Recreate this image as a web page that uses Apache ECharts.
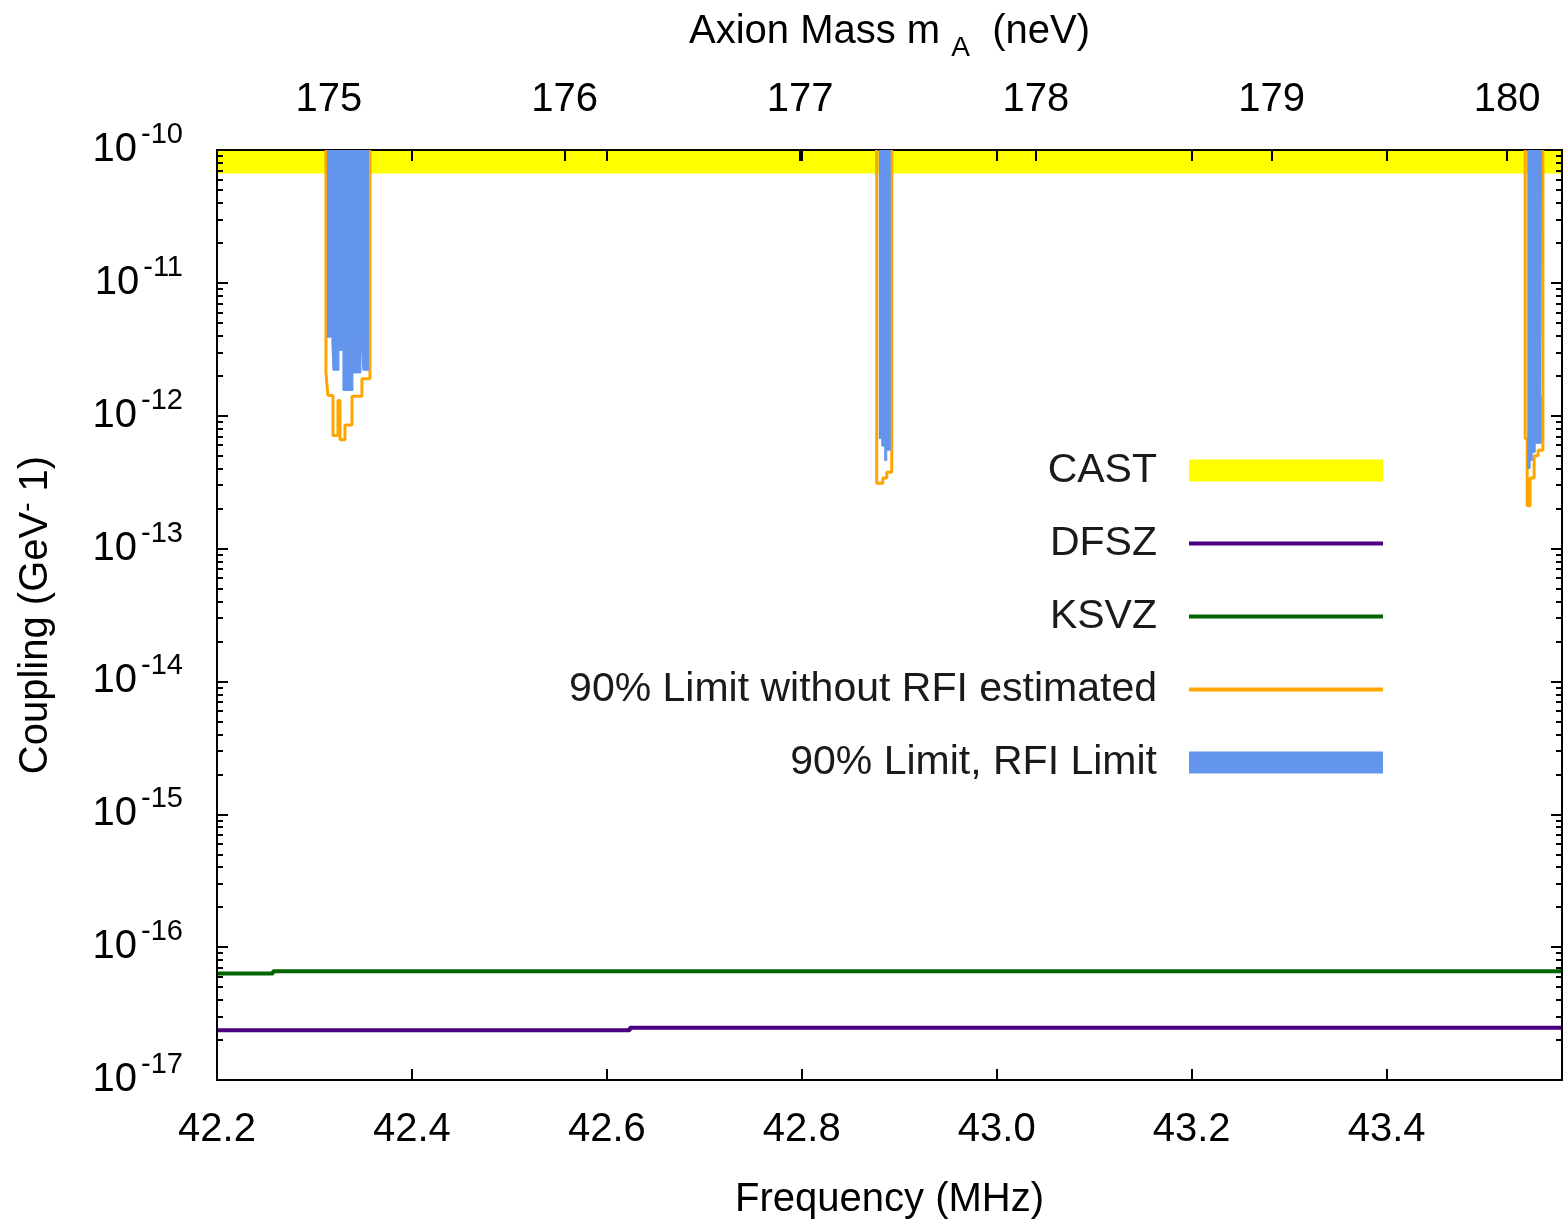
<!DOCTYPE html>
<html>
<head>
<meta charset="utf-8">
<title>Axion coupling limits</title>
<script src="https://cdn.jsdelivr.net/npm/echarts@6/dist/echarts.min.js"></script>
<style>
  html, body { margin: 0; padding: 0; background: #fff; }
  #chart { width: 1564px; height: 1220px; }
</style>
</head>
<body>
<div id="chart"></div>
<script>
// axis ranges
var freqMin = 42.2, freqMax = 43.58;       // MHz
var gMin = 1e-17, gMax = 1e-10;             // GeV^-1
var neVperMHz = 4.135667;                   // h, for the mass axis on top

// tick labels
var freqTicks = [42.2, 42.4, 42.6, 42.8, 43.0, 43.2, 43.4];
var massTicks = [175, 176, 177, 178, 179, 180];
var decadeTicks = [-17, -16, -15, -14, -13, -12, -11, -10];

// CAST limit
var castFreq = [42.2, 43.58];
var castG = [6.65e-11, 6.65e-11];

// model lines
var dfszFreq = [42.2, 42.6236, 43.58];
var dfszG = [2.37e-17, 2.47e-17, 2.47e-17];
var ksvzFreq = [42.2, 42.2574, 43.58];
var ksvzG = [6.32e-17, 6.59e-17, 6.59e-17];

// 90% limit, RFI limit (blue) - three windows
var rfiFreq1 = [42.3128, 42.3179, 42.3190, 42.3251, 42.3292, 42.3395, 42.3477, 42.3497, 42.3559];
var rfiG1    = [3.9e-12, 3.5e-12, 2.2e-12, 3.1e-12, 1.55e-12, 2.1e-12, 3.7e-12, 2.2e-12, 2.2e-12];
var rfiFreq2 = [42.8790, 42.8821, 42.8851, 42.8872, 42.8913];
var rfiG2    = [6.75e-13, 5.9e-13, 4.6e-13, 5.5e-13, 5.5e-13];
var rfiFreq3 = [43.5443, 43.5473, 43.5494, 43.5525, 43.5586, 43.5596];
var rfiG3    = [4.0e-13, 4.6e-13, 5.3e-13, 6.2e-13, 1.37e-12, 1.37e-12];

// 90% limit without RFI estimated (orange) - three windows
var noRfiFreq1 = [42.3118, 42.3138, 42.3190, 42.3241, 42.3262, 42.3313, 42.3385, 42.3487, 42.3569];
var noRfiG1    = [2.1e-12, 1.42e-12, 7.1e-13, 1.3e-12, 6.6e-13, 8.5e-13, 1.4e-12, 1.9e-12, 1.9e-12];
var noRfiFreq2 = [42.8769, 42.8831, 42.8872, 42.8923];
var noRfiG2    = [3.1e-13, 3.4e-13, 3.75e-13, 3.75e-13];
var noRfiFreq3 = [43.5422, 43.5443, 43.5473, 43.5514, 43.5555, 43.5604];
var noRfiG3    = [6.75e-13, 2.1e-13, 3.4e-13, 5.0e-13, 5.5e-13, 5.5e-13];

function pairs(xs, ys) {
  return xs.map(function (x, i) { return [x, ys[i]]; });
}
// orange curve rises to the top of the plot at both ends of a window
function scanWindow(xs, ys) {
  var d = pairs(xs, ys);
  d.unshift([xs[0], gMax]);
  d.push([xs[xs.length - 1], gMax]);
  return d;
}

var minorTicks = [];
decadeTicks.slice(0, -1).forEach(function (n) {
  for (var k = 2; k <= 9; k++) minorTicks.push(n + Math.log10(k));
});

var font = 'Liberation Sans';
var black = '#000';
var names = {
  cast: 'CAST',
  dfsz: 'DFSZ',
  ksvz: 'KSVZ',
  noRfi: '90% Limit without RFI estimated',
  rfi: '90% Limit, RFI Limit'
};

var chart = echarts.init(document.getElementById('chart'));

function tickAxis(pos, vals, len, labels) {
  return {
    type: 'value', position: pos, min: -17, max: -10, z: 5,
    axisLine: { show: false },
    splitLine: { show: false },
    axisTick: { inside: true, length: len, customValues: vals, lineStyle: { color: black, width: 2 } },
    axisLabel: labels ? {
      customValues: vals, margin: 34,
      formatter: function (v) { return '{b|10}{s|' + v + '}'; },
      rich: {
        b: { fontSize: 40, fontFamily: font, color: black },
        s: { fontSize: 29, fontFamily: font, color: black, padding: [0, 0, 30, 4] }
      }
    } : { show: false }
  };
}

// line legend entries: plain thick line, no marker
function lineLegend(name) {
  return { name: name, itemStyle: { opacity: 0 }, lineStyle: { width: 4 } };
}

var blueSeries = [pairs(rfiFreq1, rfiG1), pairs(rfiFreq2, rfiG2), pairs(rfiFreq3, rfiG3)].map(function (d) {
  return {
    name: names.rfi, type: 'line', step: 'end', data: d, symbol: 'none', z: 6,
    color: '#6495ed', lineStyle: { color: '#6495ed', width: 1 },
    areaStyle: { color: '#6495ed', opacity: 1, origin: gMax }
  };
});
var orangeSeries = [scanWindow(noRfiFreq1, noRfiG1), scanWindow(noRfiFreq2, noRfiG2), scanWindow(noRfiFreq3, noRfiG3)].map(function (d) {
  return {
    name: names.noRfi, type: 'line', step: 'end', data: d, symbol: 'none', z: 5,
    color: '#ffa500', lineStyle: { color: '#ffa500', width: 3 }
  };
});

var option = {
  animation: false,
  textStyle: { fontFamily: font, color: black },
  grid: { left: 217, right: 2, top: 150, bottom: 140, outerBoundsMode: 'none' },
  legend: {
    orient: 'vertical', right: 174, top: 445, align: 'right',
    itemWidth: 194, itemHeight: 22, itemGap: 32,
    textStyle: { fontSize: 41, fontFamily: font, color: '#1a1a1a', padding: [0, 27, 0, 0] },
    data: [
      { name: names.cast, icon: 'rect' },
      lineLegend(names.dfsz), lineLegend(names.ksvz), lineLegend(names.noRfi),
      { name: names.rfi, icon: 'rect' }
    ]
  },
  xAxis: [
    {
      type: 'value', position: 'bottom', min: freqMin, max: freqMax, z: 5,
      name: 'Frequency (MHz)', nameLocation: 'middle', nameGap: 100,
      nameTextStyle: { fontSize: 40, fontFamily: font, color: black },
      axisLine: { show: true, onZero: false, lineStyle: { color: black, width: 2 } },
      splitLine: { show: false },
      axisTick: { inside: true, length: 11, customValues: freqTicks, lineStyle: { color: black, width: 2 } },
      axisLabel: { customValues: freqTicks, margin: 30, fontSize: 40, color: black,
        formatter: function (v) { return v.toFixed(1); } }
    },
    {
      type: 'value', position: 'top', min: freqMin * neVperMHz, max: freqMax * neVperMHz, z: 5,
      name: '{a|Axion Mass m }{s|A}{a|  (neV)}', nameLocation: 'middle', nameGap: 88,
      nameTextStyle: { rich: {
        a: { fontSize: 40, fontFamily: font, color: black },
        s: { fontSize: 28, fontFamily: font, color: black, padding: [32, 0, 0, 0] }
      } },
      axisLine: { show: true, onZero: false, lineStyle: { color: black, width: 2 } },
      splitLine: { show: false },
      axisTick: { inside: true, length: 11, customValues: massTicks, lineStyle: { color: black, width: 2 } },
      axisLabel: { customValues: massTicks, margin: 30, fontSize: 40, color: black }
    },
    {
      type: 'value', position: 'top', min: freqMin, max: freqMax, z: 5,
      axisLine: { show: false },
      splitLine: { show: false },
      axisTick: { inside: true, length: 11, customValues: freqTicks, lineStyle: { color: black, width: 2 } },
      axisLabel: { show: false }
    }
  ],
  yAxis: [
    {
      type: 'log', logBase: 10, min: gMin, max: gMax, position: 'left', z: 5,
      name: '{a|Coupling (GeV}{s|-}{a| 1)}', nameLocation: 'middle', nameGap: 158, nameRotate: 90,
      nameTextStyle: { rich: {
        a: { fontSize: 40, fontFamily: font, color: black },
        s: { fontSize: 28, fontFamily: font, color: black, padding: [0, 0, 18, 0] }
      } },
      axisLine: { show: true, lineStyle: { color: black, width: 2 } },
      splitLine: { show: false },
      axisTick: { show: false },
      axisLabel: { show: false }
    },
    tickAxis('left', decadeTicks, 11, true),
    tickAxis('left', minorTicks, 6, false),
    tickAxis('right', decadeTicks, 11, false),
    tickAxis('right', minorTicks, 6, false),
    {
      type: 'value', position: 'right', min: -17, max: -10, z: 5,
      axisLine: { show: true, lineStyle: { color: black, width: 2 } },
      axisTick: { show: false }, axisLabel: { show: false }, splitLine: { show: false }
    }
  ],
  series: [
    {
      name: names.cast, type: 'line', data: pairs(castFreq, castG), symbol: 'none', z: 2,
      color: '#ffff00', lineStyle: { width: 0 },
      areaStyle: { color: '#ffff00', opacity: 1, origin: gMax }
    },
    {
      name: names.dfsz, type: 'line', step: 'end', data: pairs(dfszFreq, dfszG), symbol: 'none', z: 3,
      color: '#4b0082', lineStyle: { color: '#4b0082', width: 4 }
    },
    {
      name: names.ksvz, type: 'line', step: 'end', data: pairs(ksvzFreq, ksvzG), symbol: 'none', z: 3,
      color: '#006400', lineStyle: { color: '#006400', width: 4 }
    }
  ].concat(orangeSeries, blueSeries)
};

chart.setOption(option);
</script>
</body>
</html>
